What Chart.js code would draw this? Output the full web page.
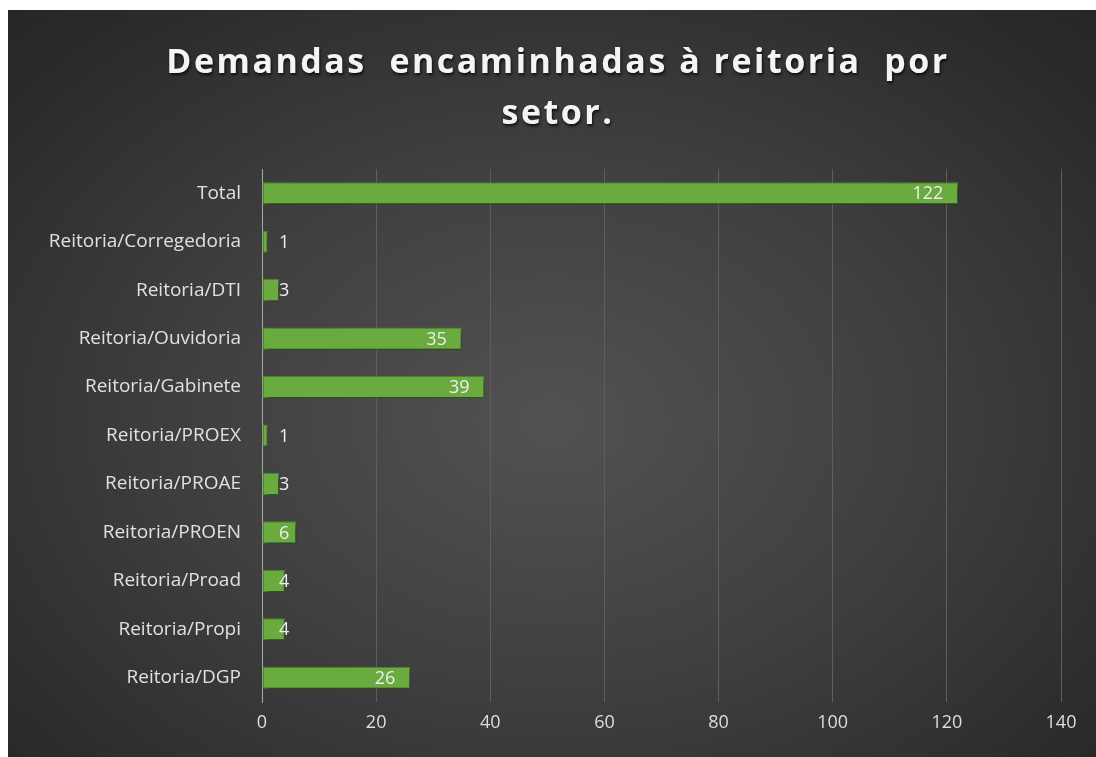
<!DOCTYPE html>
<html>
<head>
<meta charset="utf-8">
<script src="https://cdn.jsdelivr.net/npm/chart.js@4/dist/chart.umd.min.js"></script>
<style>
  html, body { margin: 0; padding: 0; background: #ffffff; }
  #caixa {
    position: absolute; left: 8px; top: 10px; width: 1088px; height: 747px;
    background: radial-gradient(ellipse 75% 80% at 50% 55%, #525252 0%, #3f3f3f 45%, #2a2a2a 85%, #252525 100%);
  }
</style>
</head>
<body>
<div id="caixa"><canvas id="grafico" width="1088" height="747"></canvas></div>
<script>
// Dados do gráfico
const titulo = ['Demandas  encaminhadas à reitoria  por', 'setor.'];
const setores = [
  'Total',
  'Reitoria/Corregedoria',
  'Reitoria/DTI',
  'Reitoria/Ouvidoria',
  'Reitoria/Gabinete',
  'Reitoria/PROEX',
  'Reitoria/PROAE',
  'Reitoria/PROEN',
  'Reitoria/Proad',
  'Reitoria/Propi',
  'Reitoria/DGP'
];
const demandas = [122, 1, 3, 35, 39, 1, 3, 6, 4, 4, 26];
const escalaMax = 140;
const passo = 20;

const fonte = "'Open Sans', 'Noto Sans', sans-serif";

// título com espaçamento e sombra (desenhado à mão)
const pluginTitulo = {
  id: 'tituloSombra',
  afterDraw(chart) {
    const ctx = chart.ctx;
    ctx.save();
    ctx.font = 'bold 34px ' + fonte;
    ctx.letterSpacing = '2.5px';
    ctx.fillStyle = '#f4f4f4';
    ctx.textAlign = 'center';
    ctx.textBaseline = 'middle';
    ctx.shadowColor = 'rgba(0,0,0,0.75)';
    ctx.shadowBlur = 3;
    ctx.shadowOffsetX = 1;
    ctx.shadowOffsetY = 2;
    const cx = 550;
    ctx.fillText(titulo[0], cx, 53);
    ctx.fillText(titulo[1], cx, 104);
    ctx.restore();
  }
};

// sombra das barras
const pluginSombra = {
  id: 'sombraBarras',
  beforeDatasetsDraw(chart) {
    const ctx = chart.ctx;
    ctx.save();
    ctx.shadowColor = 'rgba(0,0,0,0.55)';
    ctx.shadowBlur = 5;
    ctx.shadowOffsetX = 3;
    ctx.shadowOffsetY = 3;
  },
  afterDatasetsDraw(chart) {
    chart.ctx.restore();
  }
};

// rótulos de dados "extremidade interna"
const pluginRotulos = {
  id: 'rotulos',
  afterDatasetsDraw(chart) {
    const ctx = chart.ctx;
    const meta = chart.getDatasetMeta(0);
    const base = chart.scales.x.getPixelForValue(0);
    ctx.save();
    ctx.font = '18px ' + fonte;
    ctx.fillStyle = '#eeeeee';
    ctx.textBaseline = 'middle';
    ctx.textAlign = 'left';
    meta.data.forEach((barra, i) => {
      const txt = String(demandas[i]);
      const w = ctx.measureText(txt).width;
      let x = barra.x - 15 - w;
      if (x < base + 17) x = base + 17;
      ctx.fillText(txt, x, barra.y + 1);
    });
    ctx.restore();
  }
};

const ctx = document.getElementById('grafico').getContext('2d');
const grafico = new Chart(ctx, {
  type: 'bar',
  data: {
    labels: setores,
    datasets: [{
      label: 'Demandas',
      data: demandas,
      backgroundColor: '#69ab3e',
      borderColor: '#4e8a2c',
      borderWidth: 1,
      borderSkipped: false,
      categoryPercentage: 0.8,
      barPercentage: 0.57
    }]
  },
  options: {
    indexAxis: 'y',
    responsive: false,
    animation: false,
    layout: { padding: { top: 159, right: 35, bottom: 0, left: 0 } },
    plugins: {
      legend: { display: false },
      title: { display: false },
      tooltip: { enabled: false }
    },
    scales: {
      x: {
        min: 0,
        max: escalaMax,
        ticks: {
          stepSize: passo,
          color: '#dedede',
          font: { family: fonte, size: 18 },
          padding: 10
        },
        grid: { color: '#5e5e5e', lineWidth: 1, drawTicks: false },
        border: { display: false },
        afterFit(escala) { escala.height = 55; }
      },
      y: {
        ticks: {
          color: '#e0e0e0',
          font: { family: fonte, size: 19 },
          padding: 21
        },
        grid: { display: false, drawTicks: false },
        border: { display: true, color: '#a8a8a8', width: 1 },
        afterFit(escala) { escala.width = 254; }
      }
    }
  },
  plugins: [pluginSombra, pluginRotulos, pluginTitulo]
});
</script>
</body>
</html>
